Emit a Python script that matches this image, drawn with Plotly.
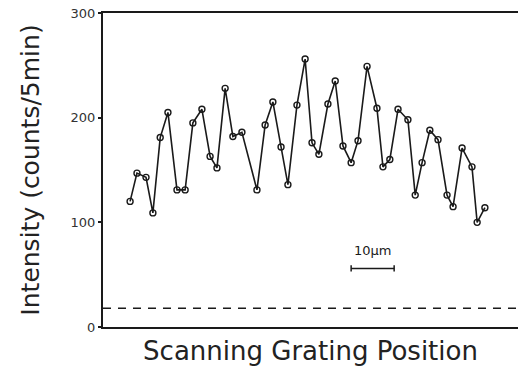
import plotly.graph_objects as go

# Scanning grating position (µm) and intensity (counts / 5 min)
position_um = [6.3, 7.9, 10.0, 11.6, 13.3, 15.1, 17.2, 19.1, 20.9, 23.0,
               24.9, 26.5, 28.4, 30.2, 32.3, 35.8, 37.7, 39.5, 41.4, 43.0,
               45.1, 47.0, 48.6, 50.2, 52.3, 54.0, 55.8, 57.7, 59.3, 61.4,
               63.7, 65.1, 66.7, 68.6, 70.9, 72.6, 74.2, 76.0, 77.9, 80.0,
               81.4, 83.5, 85.8, 87.0, 88.8]
intensity = [120, 147, 143, 109, 181, 205, 131, 131, 195, 208,
             163, 152, 228, 182, 186, 131, 193, 215, 172, 136,
             212, 256, 176, 165, 213, 235, 173, 157, 178, 249,
             209, 153, 160, 208, 198, 126, 157, 188, 179, 126,
             115, 171, 153, 100, 114]
background_level = 18
y_ticks = [0, 100, 200, 300]
scale_bar_start = 57.7
scale_bar_length = 10
scale_bar_level = 56
scale_bar_label = "10µm"

x_max = 96.5
ink = "#1a1a1a"
font_family = "DejaVu Sans"

fig = go.Figure()

# background dashed line
fig.add_trace(go.Scatter(
    x=[0, x_max], y=[background_level, background_level], mode="lines",
    line=dict(color=ink, width=1.5, dash="8px,7px"), hoverinfo="skip",
    showlegend=False, cliponaxis=False))

fig.add_trace(go.Scatter(
    x=position_um, y=intensity, mode="lines+markers",
    line=dict(color=ink, width=1.6),
    marker=dict(symbol="circle-open", size=6, color=ink, line=dict(width=1.4)),
    showlegend=False))

# scale bar
sb_end = scale_bar_start + scale_bar_length
fig.add_shape(type="line", x0=scale_bar_start, x1=sb_end, y0=scale_bar_level, y1=scale_bar_level,
              line=dict(color=ink, width=1.5))
for xv in (scale_bar_start, sb_end):
    fig.add_shape(type="line", x0=xv, x1=xv, y0=scale_bar_level - 3, y1=scale_bar_level + 3,
                  line=dict(color=ink, width=1.5))
fig.add_annotation(x=scale_bar_start + scale_bar_length / 2, y=scale_bar_level + 8,
                   text=scale_bar_label, showarrow=False, yanchor="bottom",
                   font=dict(family=font_family, size=13, color=ink))

fig.update_layout(
    width=518, height=375,
    margin=dict(l=103, r=0, t=13, b=48),
    paper_bgcolor="white", plot_bgcolor="white",
    font=dict(family=font_family, color=ink),
    xaxis=dict(range=[0, x_max], showgrid=False, zeroline=False, showticklabels=False,
               ticks="", showline=True, linecolor=ink, linewidth=2, mirror=True,
               title=dict(text="Scanning Grating Position", standoff=14,
                          font=dict(size=26, family=font_family, color="#222"))),
    yaxis=dict(range=[0, 300], tickvals=y_ticks, showgrid=False, zeroline=False,
               ticks="outside", ticklen=3, tickwidth=1.5, tickcolor=ink,
               showline=True, linecolor=ink, linewidth=2,
               tickfont=dict(size=13, color="#333", family=font_family),
               title=dict(text="Intensity (counts/5min)", standoff=24,
                          font=dict(size=25, family=font_family, color="#222"))),
)

fig.write_html("out.html")
